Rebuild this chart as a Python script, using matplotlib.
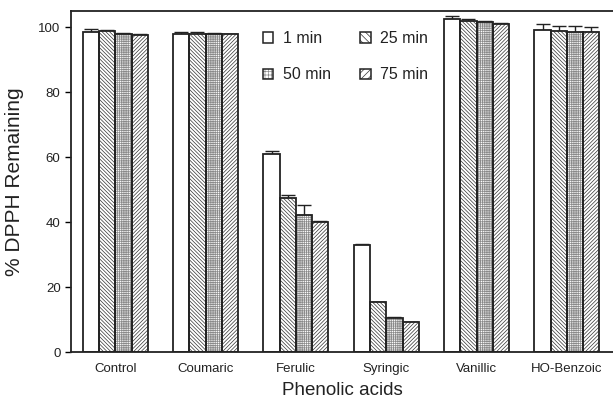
import numpy as np
import matplotlib.pyplot as plt
from matplotlib.legend_handler import HandlerBase

plt.rcParams['font.family'] = ['Liberation Sans', 'DejaVu Sans']
plt.rcParams['hatch.linewidth'] = 0.5

acids = ['Control', 'Coumaric', 'Ferulic', 'Syringic', 'Vanillic', 'HO-Benzoic']
times = ['1 min', '25 min', '50 min', '75 min']

min1 = [98.6, 98.0, 61.0, 33.1, 102.5, 99.1]
min25 = [98.8, 98.0, 47.3, 15.3, 102.0, 98.8]
min50 = [98.0, 97.8, 42.3, 10.6, 101.6, 98.6]
min75 = [97.7, 97.8, 40.0, 9.2, 101.1, 98.5]

err1 = [0.9, 0.5, 1.0, 0.2, 1.0, 1.8]
err25 = [0.4, 0.5, 0.9, 0.1, 0.4, 1.7]
err50 = [0.2, 0.3, 3.0, 0.1, 0.3, 1.9]
err75 = [0.1, 0.2, 0.2, 0.1, 0.2, 1.5]

series = [min1, min25, min50, min75]
errors = [err1, err25, err50, err75]
hatches = ['', '\\' * 9, '+' * 9, '/' * 9]
hatch_cols = ['#222222', '#333333', '#8a8a8a', '#333333']

fig = plt.figure(figsize=(6.13, 4.04), dpi=100)
ax = fig.add_axes([0.1158, 0.1287, 0.8842, 0.844])

x = np.arange(len(acids))
w = 0.18
handles = []
for i, (vals, errs) in enumerate(zip(series, errors)):
    pos = x + (i - 1.5) * w
    # hatch layer, then outline on top
    ax.bar(pos, vals, w, color='white', edgecolor=hatch_cols[i], hatch=hatches[i],
           linewidth=0, zorder=2)
    ax.bar(pos, vals, w, fill=False, edgecolor='#222222', linewidth=1.3, zorder=3)
    ax.errorbar(pos, vals, yerr=[np.zeros(len(errs)), errs], fmt='none',
                ecolor='#222222', elinewidth=1.0, capsize=5, capthick=1.0, zorder=1)
    handles.append(plt.Rectangle((0, 0), 1, 1, facecolor='white',
                                 edgecolor=hatch_cols[i], hatch=hatches[i][:5],
                                 linewidth=0))

ax.set_xlim(-0.49, 5.51)
ax.set_ylim(0, 105)
ax.set_yticks([0, 20, 40, 60, 80, 100])
ax.set_xticks(x)
ax.set_xticklabels(acids, fontsize=9.5, color='#222222')
ax.tick_params(axis='x', length=0, pad=8)
ax.tick_params(axis='y', direction='out', length=4, labelsize=9.5, width=1,
               labelcolor='#222222')
ax.spines['right'].set_visible(False)
for s in ['left', 'bottom', 'top']:
    ax.spines[s].set_linewidth(1.3)
    ax.spines[s].set_color('#222222')

ax.set_xlabel('Phenolic acids', fontsize=13.5, labelpad=5, color='#222222')
ax.set_ylabel('% DPPH Remaining', fontsize=15, labelpad=10, color='#222222')


class BoxHandler(HandlerBase):
    def create_artists(self, legend, orig, xd, yd, width, height, fontsize, trans):
        s = height
        back = plt.Rectangle((xd, yd), s, s, facecolor='white',
                             edgecolor=orig.get_edgecolor(), hatch=orig.get_hatch(),
                             linewidth=0, transform=trans)
        box = plt.Rectangle((xd, yd), s, s, fill=False, edgecolor='#222222',
                            linewidth=1.1, transform=trans)
        return [back, box]


order = [0, 2, 1, 3]
ax.legend([handles[k] for k in order], [times[k] for k in order], ncol=2,
          frameon=False, loc='upper left', bbox_to_anchor=(0.327, 0.985),
          fontsize=11.5, handlelength=0.65, handleheight=0.65, handletextpad=0.6,
          columnspacing=1.85, labelspacing=1.35, labelcolor='#222222',
          handler_map={plt.Rectangle: BoxHandler()})

fig.savefig('out.png', dpi=100)
